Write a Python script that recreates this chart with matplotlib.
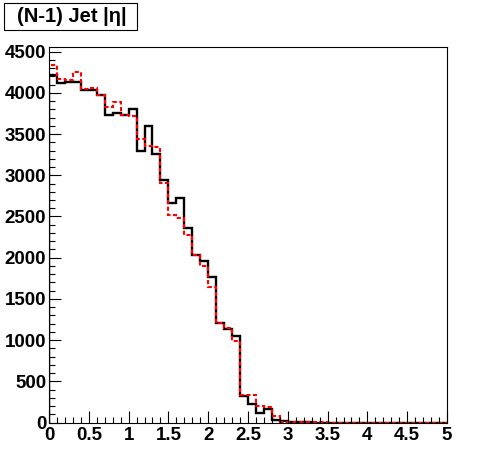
import numpy as np
import matplotlib
matplotlib.use("Agg")
import matplotlib.pyplot as plt
from matplotlib.patches import Rectangle

# |eta| histogram, 50 bins of 0.1 from 0 to 5
bin_edges = np.linspace(0, 5, 51)

black_counts = [4220, 4115, 4135, 4135, 4035, 4035, 3975, 3730, 3760, 3730,
                3800, 3295, 3600, 3258, 2943, 2667, 2721, 2357, 2035, 1962,
                1770, 1204, 1131, 1050, 322, 220, 111, 160, 35, 15,
                5, 2, 1, 0, 0, 0, 0, 0, 0, 0,
                0, 0, 0, 0, 0, 0, 0, 0, 0, 0]

red_counts = [4340, 4165, 4157, 4248, 4047, 4063, 3975, 3826, 3890, 3732,
              3725, 3444, 3356, 3347, 2903, 2514, 2478, 2276, 2027, 1900,
              1648, 1211, 1143, 993, 334, 330, 200, 185, 75, 8,
              4, 3, 2, 1, 1, 0, 0, 0, 0, 0,
              0, 0, 0, 0, 0, 0, 0, 0, 0, 0]

title = "(N-1) Jet |η|"

plt.rcParams['font.family'] = ['Liberation Sans', 'DejaVu Sans']

fig = plt.figure(figsize=(4.96, 4.72), dpi=100)
ax = fig.add_axes([49 / 496, 1 - 422.5 / 472, 398 / 496, 375.5 / 472])

ax.stairs(black_counts, bin_edges, color='black', linewidth=1.7)
ax.stairs(red_counts, bin_edges, color='red', linewidth=1.5,
          linestyle=(0, (2.0, 1.2)))

ax.set_xlim(0, 5)
ax.set_ylim(0, 1.05 * max(red_counts))

ax.set_xticks(np.arange(0, 5.01, 0.5))
ax.set_xticklabels(['0', '0.5', '1', '1.5', '2', '2.5', '3', '3.5', '4', '4.5', '5'])
ax.set_xticks(np.arange(0, 5.01, 0.1), minor=True)
ax.set_yticks(np.arange(0, 4501, 500))
ax.set_yticks(np.arange(0, 4501, 100), minor=True)

ax.tick_params(which='both', direction='in', top=False, right=False,
               width=0.8, color='black')
ax.tick_params(which='major', length=8.6, labelsize=13.5)
ax.tick_params(which='minor', length=4.3)
ax.tick_params(axis='y', pad=2)
ax.tick_params(axis='x', pad=3)
for lab in ax.get_xticklabels() + ax.get_yticklabels():
    lab.set_fontweight('bold')

for sp in ax.spines.values():
    sp.set_linewidth(0.8)

# title box in the top-left corner
fig.patches.append(Rectangle((4 / 496, 1 - 29.5 / 472), 133 / 496, 27 / 472,
                             transform=fig.transFigure, facecolor='white',
                             edgecolor='black', linewidth=0.8))
fig.text(72 / 496, 1 - 16 / 472, title, ha='center', va='center',
         fontsize=14.5, fontweight='bold')

fig.savefig('out.png', dpi=100)
